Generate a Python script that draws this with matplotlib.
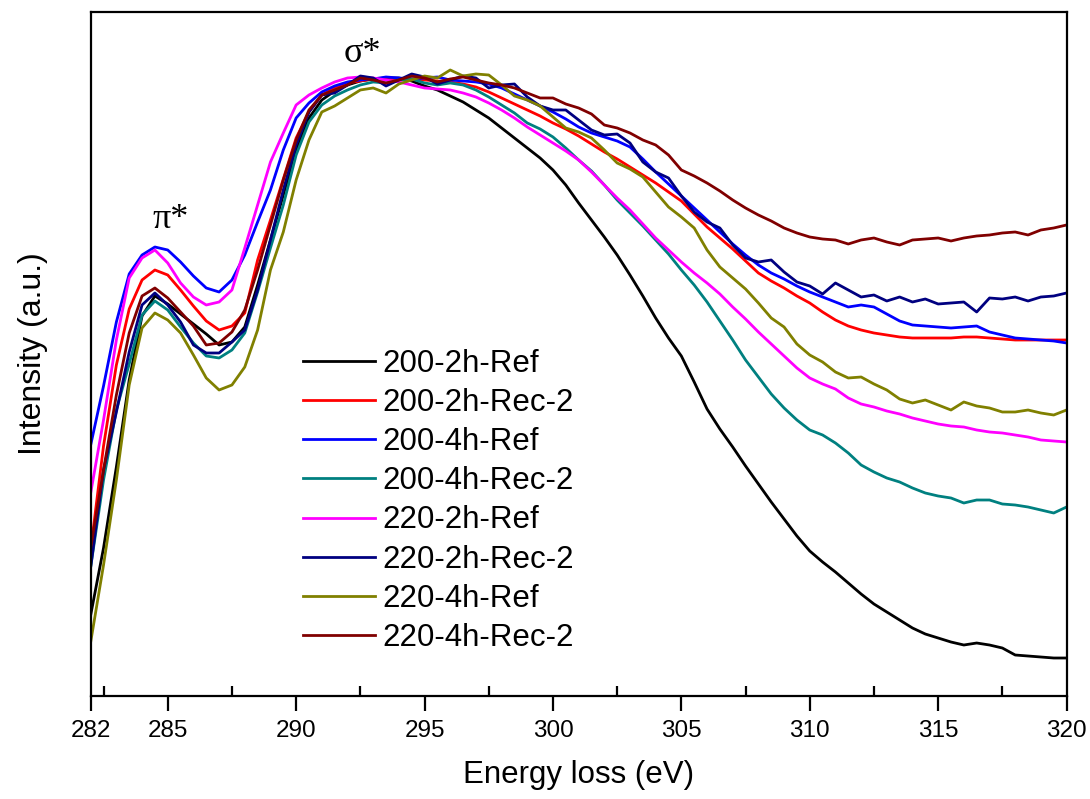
import matplotlib
matplotlib.use("Agg")
import matplotlib.pyplot as plt
from matplotlib.ticker import FixedLocator

plt.rcParams['font.family'] = ['Liberation Sans', 'DejaVu Sans']

# energy grid, 282-320 eV in 0.5 eV steps
energy = [282 + 0.5 * i for i in range(77)]

# intensities (a.u., 0 = bottom of frame, 684 = top)
ref_200_2h = [81, 148, 229, 316, 380, 400, 392, 382, 372, 362, 351, 354, 369, 411, 456,
              501, 546, 578, 596,
              605, 611, 615, 617, 618, 618, 615, 610, 606, 600, 594, 586, 578, 568, 558,
              548, 538, 526, 511, 493, 476, 459, 441, 421, 400, 378, 358, 340, 314, 287,
              267, 249, 230, 212, 194, 177, 160, 145, 134, 124, 113, 102, 92, 84, 76, 68,
              62, 58, 54, 51, 53, 51, 48, 41, 40, 39, 38, 38]
rec_200_2h = [146, 250, 331, 387, 416, 426, 421, 406, 390, 375, 366, 370, 383, 436, 476,
              517, 558, 584, 601,
              608, 613, 615, 617, 617, 617, 617, 616, 615, 614, 612, 609, 604, 598, 592,
              586, 580, 573, 567, 560, 552, 544, 537, 529, 521, 513, 504, 495, 482, 469,
              458, 447, 435, 423, 415, 408, 400, 393, 384, 376, 370, 366, 363, 361, 359,
              358, 358, 358, 358, 359, 359, 358, 357, 356, 356, 356, 356, 356]
ref_200_4h = [251, 310, 374, 422, 441, 449, 446, 434, 420, 408, 404, 416, 441, 474, 506,
              546, 578, 593, 604,
              610, 614, 616, 617, 619, 618, 617, 618, 619, 616, 615, 614, 612, 608, 602,
              596, 590, 584, 577, 569, 563, 559, 555, 549, 537, 524, 512, 500, 488, 476,
              464, 452, 441, 431, 423, 417, 410, 404, 399, 394, 389, 391, 389, 382, 375,
              371, 370, 369, 368, 369, 370, 364, 361, 358, 357, 356, 355, 353]
rec_200_4h = [129, 216, 286, 332, 381, 395, 386, 369, 353, 340, 338, 346, 363, 404, 448,
              491, 541, 574, 591,
              600, 606, 611, 614, 613, 616, 617, 613, 611, 613, 611, 606, 599, 591, 583,
              573, 567, 559, 548, 536, 525, 511, 496, 483, 470, 456, 442, 426, 411, 394,
              375, 356, 336, 319, 302, 288, 276, 266, 261, 253, 243, 231, 224, 218, 214,
              208, 203, 200, 198, 193, 196, 196, 192, 191, 189, 186, 183, 189]
ref_220_2h = [203, 276, 356, 418, 438, 446, 433, 413, 399, 391, 394, 406, 448, 491, 534,
              563, 591, 601, 608,
              614, 618, 619, 618, 616, 614, 611, 608, 607, 606, 603, 599, 593, 586, 578,
              569, 561, 553, 545, 536, 524, 511, 498, 486, 472, 458, 446, 434, 423, 413,
              402, 389, 377, 364, 352, 340, 328, 318, 312, 307, 298, 292, 289, 285, 282,
              278, 275, 272, 270, 269, 266, 264, 263, 261, 259, 256, 255, 254]
rec_220_2h = [129, 226, 284, 344, 391, 403, 391, 374, 351, 343, 343, 354, 366, 406, 456,
              506, 551, 584, 601,
              603, 611, 620, 618, 610, 616, 622, 619, 612, 616, 620, 618, 608, 611, 612,
              599, 590, 586, 586, 576, 566, 561, 562, 553, 534, 524, 518, 500, 484, 474,
              468, 451, 438, 434, 436, 424, 414, 410, 402, 413, 406, 399, 401, 395, 399,
              394, 397, 392, 393, 394, 384, 398, 397, 399, 395, 399, 400, 403]
ref_220_4h = [54, 131, 216, 311, 368, 383, 376, 363, 341, 318, 306, 311, 329, 366, 426,
              464, 516, 556, 584,
              590, 598, 606, 608, 603, 612, 616, 620, 618, 626, 620, 622, 621, 611, 600,
              596, 590, 579, 568, 564, 558, 546, 533, 527, 519, 504, 489, 479, 468, 446,
              429, 418, 407, 393, 378, 369, 352, 341, 334, 324, 318, 319, 312, 306, 297,
              293, 296, 291, 286, 294, 290, 288, 284, 284, 286, 283, 281, 286]
rec_220_4h = [148, 226, 301, 363, 400, 408, 398, 384, 370, 351, 353, 364, 386, 426, 471,
              516, 556, 586, 601,
              606, 611, 618, 616, 613, 616, 620, 618, 614, 617, 619, 616, 613, 611, 608,
              603, 598, 598, 592, 588, 582, 571, 568, 563, 556, 551, 541, 526, 520, 513,
              505, 496, 488, 481, 475, 468, 463, 459, 457, 456, 452, 456, 458, 454, 451,
              456, 457, 458, 455, 458, 460, 461, 463, 464, 461, 466, 468, 471]

labels = ['200-2h-Ref', '200-2h-Rec-2', '200-4h-Ref', '200-4h-Rec-2',
          '220-2h-Ref', '220-2h-Rec-2', '220-4h-Ref', '220-4h-Rec-2']
colors = ['#000000', '#FF0000', '#0000FF', '#008080',
          '#FF00FF', '#000080', '#808000', '#800000']
series = [ref_200_2h, rec_200_2h, ref_200_4h, rec_200_4h,
          ref_220_2h, rec_220_2h, ref_220_4h, rec_220_4h]

fig = plt.figure(figsize=(10.9, 7.99), dpi=100)
ax = fig.add_axes([0.0832, 0.1289, 0.8953, 0.8561])

for y, c, lab in zip(series, colors, labels):
    ax.plot(energy, y, color=c, lw=2.0, label=lab)

ax.set_xlim(282, 320)
ax.set_ylim(0, 684)

ax.xaxis.set_major_locator(FixedLocator([282, 285, 290, 295, 300, 305, 310, 315, 320]))
ax.xaxis.set_minor_locator(FixedLocator([282.5, 287.5, 292.5, 297.5, 302.5, 307.5,
                                         312.5, 317.5]))
ax.tick_params(axis='x', which='major', direction='out', length=11, width=1.6,
               labelsize=17.5, pad=6, top=False)
ax.tick_params(axis='x', which='minor', direction='in', length=7, width=1.6, top=False)
ax.set_yticks([])
for sp in ax.spines.values():
    sp.set_linewidth(1.6)

ax.set_xlabel('Energy loss (eV)', fontsize=22.5, labelpad=13)
ax.set_ylabel('Intensity (a.u.)', fontsize=23, labelpad=31)

ax.text(285.1, 476, 'π*', fontsize=26, family='Liberation Serif', ha='center', va='center')
ax.text(292.6, 642, 'σ*', fontsize=26, family='Liberation Serif', ha='center', va='center')

ax.legend(loc='upper left', bbox_to_anchor=(0.2175, 0.507), frameon=False,
          fontsize=22.5, handlelength=2.3, handletextpad=0.25, labelspacing=0.29,
          borderpad=0, borderaxespad=0)

fig.savefig('out.png', dpi=100)
